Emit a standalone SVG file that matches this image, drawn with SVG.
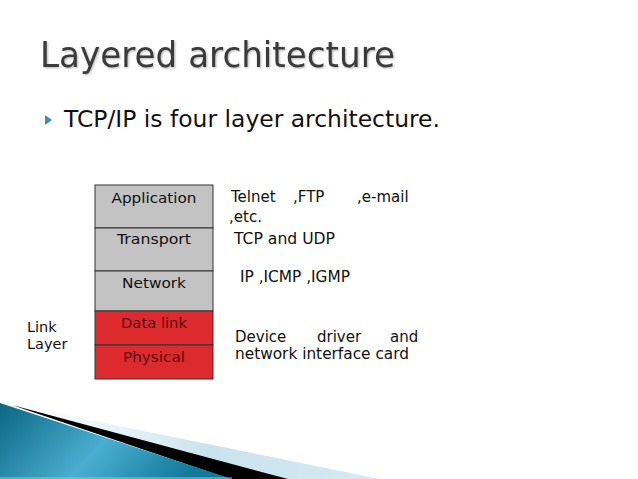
<svg xmlns="http://www.w3.org/2000/svg" width="638" height="479" viewBox="0 0 638 479">
<defs>
<linearGradient id="teal" x1="0" y1="0" x2="1" y2="0.3">
<stop offset="0" stop-color="#0b6683"/>
<stop offset="0.55" stop-color="#4aaed0"/>
<stop offset="1" stop-color="#137a9c"/>
</linearGradient>
<linearGradient id="pale" x1="0" y1="0" x2="1" y2="0">
<stop offset="0" stop-color="#e6f2f7" stop-opacity="0.3"/>
<stop offset="0.5" stop-color="#c9e3ee"/>
<stop offset="1" stop-color="#d6eaf2"/>
</linearGradient>
<filter id="sh" x="-5%" y="-20%" width="110%" height="140%">
<feGaussianBlur in="SourceAlpha" stdDeviation="1"/>
<feOffset dx="1" dy="1" result="b"/>
<feComponentTransfer><feFuncA type="linear" slope="0.3"/></feComponentTransfer>
<feMerge><feMergeNode/><feMergeNode in="SourceGraphic"/></feMerge>
</filter>
</defs>
<style>
text{font-family:"DejaVu Sans","Liberation Sans",sans-serif;}
.title{font-size:35px;fill:#3a3a3a;}
.bul{font-size:23px;fill:#111;}
.lbl{font-size:14px;fill:#111;}
.red{fill:#5a0d0d;}
.gray{fill:#c3c3c3;stroke:#333;stroke-width:1;}
.rd{fill:#dc2a2e;stroke:#333;stroke-width:1;}
.note{font-size:15px;fill:#111;}
.link{font-size:14.5px;fill:#111;}
</style>
<rect width="638" height="479" fill="#fff"/>
<!-- bottom decoration -->
<polygon points="40,410 380,479 230,479" fill="url(#pale)"/>
<polygon points="12,405 288,479 230,479" fill="#000"/>
<polygon points="0,403 232,479 0,479" fill="url(#teal)"/>
<rect x="0" y="477" width="232" height="2" fill="#7fd0e6" opacity="0.5"/>
<!-- title -->
<text class="title" x="40" y="67" textLength="355" lengthAdjust="spacingAndGlyphs" filter="url(#sh)">Layered architecture</text>
<!-- bullet -->
<polygon points="45,115 52,120 45,125" fill="#3a8fb0"/>
<text class="bul" x="64" y="127" textLength="376" lengthAdjust="spacingAndGlyphs">TCP/IP is four layer architecture.</text>
<!-- layers -->
<g id="application"><rect class="gray" x="95" y="185" width="118" height="43"/><text class="lbl" x="154" y="203" text-anchor="middle" textLength="85" lengthAdjust="spacingAndGlyphs">Application</text></g>
<g id="transport"><rect class="gray" x="95" y="228" width="118" height="43"/><text class="lbl" x="154" y="244" text-anchor="middle" textLength="74" lengthAdjust="spacingAndGlyphs">Transport</text></g>
<g id="network"><rect class="gray" x="95" y="271" width="118" height="40"/><text class="lbl" x="154" y="288" text-anchor="middle" textLength="64" lengthAdjust="spacingAndGlyphs">Network</text></g>
<g id="datalink"><rect class="rd" x="95" y="311" width="118" height="34"/><text class="lbl red" x="154" y="328" text-anchor="middle" textLength="66" lengthAdjust="spacingAndGlyphs">Data link</text></g>
<g id="physical"><rect class="rd" x="95" y="345" width="118" height="34"/><text class="lbl red" x="154" y="362" text-anchor="middle" textLength="62" lengthAdjust="spacingAndGlyphs">Physical</text></g>
<g id="connectors"></g>
<!-- link layer -->
<g id="linklayer">
<text class="link" x="27" y="332">Link</text>
<text class="link" x="27" y="349">Layer</text>
</g>
<!-- notes -->
<g id="notes">
<text class="note" x="231" y="202">Telnet</text>
<text class="note" x="293" y="202">,FTP</text>
<text class="note" x="357" y="202">,e-mail</text>
<text class="note" x="229" y="222">,etc.</text>
<text class="note" x="234" y="244" textLength="101" lengthAdjust="spacingAndGlyphs">TCP and UDP</text>
<text class="note" x="240" y="282" textLength="110" lengthAdjust="spacingAndGlyphs">IP ,ICMP ,IGMP</text>
<text class="note" x="235" y="342">Device</text>
<text class="note" x="317" y="342">driver</text>
<text class="note" x="390" y="342">and</text>
<text class="note" x="235" y="359" textLength="174" lengthAdjust="spacingAndGlyphs">network interface card</text>
</g>
</svg>
